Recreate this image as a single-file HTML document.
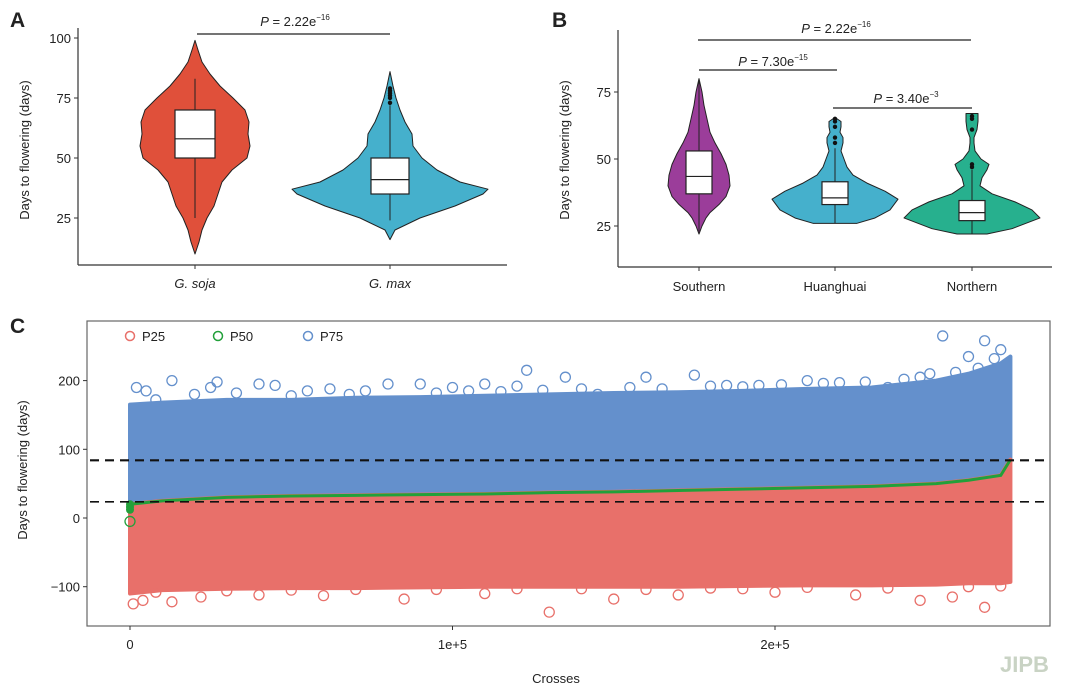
<!DOCTYPE html>
<html><head><meta charset="utf-8"><style>
body{margin:0;background:#fff}
svg text{font-family:"Liberation Sans",Arial,sans-serif;fill:#222}
</style></head><body>
<svg id="s" width="1080" height="693" viewBox="0 0 1080 693" xmlns="http://www.w3.org/2000/svg">
<text x="10" y="27" font-size="21" font-weight="bold">A</text>
<text x="552" y="27" font-size="21" font-weight="bold">B</text>
<text x="10" y="333" font-size="21" font-weight="bold">C</text>
<g id="pa"></g>
<g id="pb"></g>
<g id="pc"></g>
<text x="1000" y="672" font-size="22" font-weight="bold" fill="#c9d3c4" style="fill:#c9d3c4">JIPB</text>
</svg>
<script>
// ---- Panel A data ----
const aCats=["G. soja","G. max"];
const aSojaVals=[10,15,20,25,30,35,40,45,50,55,60,65,70,75,80,85,90,95,99];
const aSojaDens=[0,4,7,12,19,23,27,37,52,55,53,54,50,38,25,15,7,3,0];
const aMaxVals=[16,20,25,30,35,37,40,45,50,55,60,65,70,75,80,86];
const aMaxDens=[0,5,30,65,93,98,70,47,32,23,22,15,10,6,3,0];
const aBox=[[25,50,58,70,83],[24,35,41,50,72]];
const aOut=[[],[73,75,76,77,78,79]];
const aTicks=[25,50,75,100];
// ---- Panel B data ----
const bCats=["Southern","Huanghuai","Northern"];
const bSVals=[22,25,28,30,33,36,40,44,48,52,56,60,65,70,75,80];
const bSDens=[0,3,7,11,20,27,31,30,27,22,16,11,8,5,3,0];
const bHVals=[26,28,31,35,38,41,44,47,50,53,56,58,60,62,64,65.5];
const bHDens=[22,40,55,63,50,32,18,12,9,6,8,8,5,6,6,0];
const bNVals=[22,24,28,31,34,37,40,43,46,48,50,53,56,58,61,64,67];
const bNDens=[15,40,68,60,43,20,8,10,15,17,9,3,2,2,5,6,6];
const bBox=[[23,37,43.5,53,80],[26,33,35.5,41.5,54],[22,27,30,34.5,46]];
const bOut=[[],[56,58,62,64,65],[47,48,61,65,66]];
const bTicks=[25,50,75];
// ---- Panel C data ----
const cXs=[0,0.1,0.3,0.5,0.7,0.9,1.1,1.3,1.5,1.7,1.9,2.1,2.3,2.5,2.6,2.7,2.73];
const cP75Top=[165,168,172,172,175,176,178,180,182,183,185,188,190,200,210,225,235];
const cP50=[20,25,30,32,33,34,35,37,38,40,42,44,46,50,55,62,85];
const cP25Bottom=[-110,-105,-103,-102,-102,-101,-100,-100,-100,-100,-99,-98,-98,-97,-95,-95,-93];
const cBlueOutX=[0.02,0.05,0.13,0.2,0.25,0.27,0.4,0.45,0.55,0.62,0.73,0.8,0.9,1.0,1.1,1.2,1.23,1.35,1.45,1.6,1.75,1.85,1.95,2.1,2.2,2.35,2.45,2.52,2.6,2.65,2.7,0.08,0.33,0.5,0.68,0.95,1.05,1.15,1.28,1.4,1.55,1.65,1.8,1.9,2.02,2.15,2.28,2.4,2.48,2.56,2.63,2.68];
const cBlueOutY=[190,185,200,180,190,198,195,193,185,188,185,195,195,190,195,192,215,205,180,205,208,193,193,200,197,190,205,265,235,258,245,172,182,178,180,182,185,184,186,188,190,188,192,191,194,196,198,202,210,212,218,232];
const cPinkOutX=[0.01,0.04,0.13,0.22,0.4,0.6,0.85,1.1,1.3,1.5,1.7,2.0,2.25,2.45,2.55,2.65,0.08,0.3,0.5,0.7,0.95,1.2,1.4,1.6,1.8,1.9,2.1,2.35,2.6,2.7];
const cPinkOutY=[-125,-120,-122,-115,-112,-113,-118,-110,-137,-118,-112,-108,-112,-120,-115,-130,-108,-106,-105,-104,-104,-103,-103,-104,-102,-103,-101,-102,-100,-99];
const cHLines=[84,23.6];
const cYTicks=[-100,0,100,200];
const cXTicks=[0,1,2];
const cXTickLabels=["0","1e+5","2e+5"];

const NS="http://www.w3.org/2000/svg";
function el(p,tag,at,txt){const e=document.createElementNS(NS,tag);for(const k in at)e.setAttribute(k,at[k]);if(txt!==undefined)e.textContent=txt;p.appendChild(e);return e;}
function violin(g,cx,ys,vals,dens,col,name){
  let pts=[];for(let i=0;i<vals.length;i++)pts.push((cx-dens[i])+","+ys(vals[i]));
  for(let i=vals.length-1;i>=0;i--)pts.push((cx+dens[i])+","+ys(vals[i]));
  const p=el(g,"polygon",{points:pts.join(" "),fill:col,stroke:"#222","stroke-width":1,"stroke-linejoin":"round"});
  
  
}
function box(g,cx,ys,b,hw,out,name){
  const l=el(g,"line",{x1:cx,x2:cx,y1:ys(b[0]),y2:ys(b[4]),stroke:"#222","stroke-width":1});
  
  
  const r=el(g,"rect",{x:cx-hw,y:ys(b[3]),width:2*hw,height:ys(b[1])-ys(b[3]),fill:"#fff",stroke:"#222","stroke-width":1.2});
  
  
  const m=el(g,"line",{x1:cx-hw,x2:cx+hw,y1:ys(b[2]),y2:ys(b[2]),stroke:"#222","stroke-width":1.2});
  
  
  out.forEach(v=>{const c=el(g,"circle",{cx:cx,cy:ys(v),r:2.2,fill:"#111"});
    
    });
}
function ptext(g,x,y,val,exp,name){
  const t=el(g,"text",{x:x,y:y,"text-anchor":"middle","font-size":13});
  
  
  el(t,"tspan",{"font-style":"italic"},"P");
  el(t,"tspan",{}," = "+val+"e");
  el(t,"tspan",{"font-size":8,dy:-6},exp);
}
// Panel A
(function(){
  const g=document.getElementById("pa");
  const ys=v=>38+(100-v)*2.4;
  const xc=[195,390];
  el(g,"line",{x1:78,x2:78,y1:28,y2:265,stroke:"#333","stroke-width":1.2});
  el(g,"line",{x1:78,x2:507,y1:265,y2:265,stroke:"#333","stroke-width":1.2});
  aTicks.forEach(v=>{el(g,"line",{x1:74,x2:78,y1:ys(v),y2:ys(v),stroke:"#333"});
    const t=el(g,"text",{x:71,y:ys(v)+5,"text-anchor":"end","font-size":13},String(v));
    
    });
  aCats.forEach((c,i)=>{el(g,"line",{x1:xc[i],x2:xc[i],y1:265,y2:269,stroke:"#333"});
    const t=el(g,"text",{x:xc[i],y:288,"text-anchor":"middle","font-size":13,"font-style":"italic"},c);
    
    });
  const yt=el(g,"text",{x:0,y:0,transform:"translate(29,150) rotate(-90)","text-anchor":"middle","font-size":13},"Days to flowering (days)");
  
  
  violin(g,xc[0],ys,aSojaVals,aSojaDens,"#e0503a","violin-g-soja");
  violin(g,xc[1],ys,aMaxVals,aMaxDens,"#45b0cc","violin-g-max");
  box(g,xc[0],ys,aBox[0],20,aOut[0],"box-g-soja");
  box(g,xc[1],ys,aBox[1],19,aOut[1],"box-g-max");
  el(g,"line",{x1:197,x2:390,y1:34,y2:34,stroke:"#222","stroke-width":1.2});
  ptext(g,295,26,"2.22","−16","a-p-value");
})();
// Panel B
(function(){
  const g=document.getElementById("pb");
  const ys=v=>92+(75-v)*2.68;
  const xc=[699,835,972];
  el(g,"line",{x1:618,x2:618,y1:30,y2:267,stroke:"#333","stroke-width":1.2});
  el(g,"line",{x1:618,x2:1052,y1:267,y2:267,stroke:"#333","stroke-width":1.2});
  bTicks.forEach(v=>{el(g,"line",{x1:614,x2:618,y1:ys(v),y2:ys(v),stroke:"#333"});
    const t=el(g,"text",{x:611,y:ys(v)+5,"text-anchor":"end","font-size":13},String(v));
    
    });
  bCats.forEach((c,i)=>{el(g,"line",{x1:xc[i],x2:xc[i],y1:267,y2:271,stroke:"#333"});
    const t=el(g,"text",{x:xc[i],y:291,"text-anchor":"middle","font-size":13},c);
    
    });
  const yt=el(g,"text",{x:0,y:0,transform:"translate(569,150) rotate(-90)","text-anchor":"middle","font-size":13},"Days to flowering (days)");
  
  
  const cols=["#9b3d9a","#45b0cc","#27b08e"];
  const V=[bSVals,bHVals,bNVals],D=[bSDens,bHDens,bNDens];
  for(let i=0;i<3;i++){violin(g,xc[i],ys,V[i],D[i],cols[i],"violin-"+bCats[i].toLowerCase());}
  for(let i=0;i<3;i++){box(g,xc[i],ys,bBox[i],13,bOut[i],"box-"+bCats[i].toLowerCase());}
  el(g,"line",{x1:698,x2:971,y1:40,y2:40,stroke:"#222","stroke-width":1.2});
  el(g,"line",{x1:699,x2:837,y1:70,y2:70,stroke:"#222","stroke-width":1.2});
  el(g,"line",{x1:833,x2:972,y1:108,y2:108,stroke:"#222","stroke-width":1.2});
  ptext(g,836,33,"2.22","−16","b-p-value-south-north");
  ptext(g,773,66,"7.30","−15","b-p-value-south-huang");
  ptext(g,906,103,"3.40","−3","b-p-value-huang-north");
})();
// Panel C
(function(){
  const g=document.getElementById("pc");
  const xs=v=>130+v*322.5;
  const ys=v=>518-v*0.687;
  el(g,"rect",{x:87,y:321,width:963,height:305,fill:"none",stroke:"#666","stroke-width":1.2});
  cYTicks.forEach(v=>{el(g,"line",{x1:83,x2:87,y1:ys(v),y2:ys(v),stroke:"#333"});
    const t=el(g,"text",{x:80,y:ys(v)+5,"text-anchor":"end","font-size":13},String(v).replace("-","−"));
    
    });
  cXTicks.forEach((v,i)=>{el(g,"line",{x1:xs(v),x2:xs(v),y1:626,y2:630,stroke:"#333"});
    const t=el(g,"text",{x:xs(v),y:649,"text-anchor":"middle","font-size":13},cXTickLabels[i]);
    
    });
  const yt=el(g,"text",{x:0,y:0,transform:"translate(27,470) rotate(-90)","text-anchor":"middle","font-size":13},"Days to flowering (days)");
  
  
  const xt=el(g,"text",{x:556,y:683,"text-anchor":"middle","font-size":13},"Crosses");
  
  
  let pb=[],pp=[],gl=[];
  for(let i=0;i<cXs.length;i++)pb.push(xs(cXs[i])+","+ys(cP75Top[i]));
  for(let i=cXs.length-1;i>=0;i--)pb.push(xs(cXs[i])+","+ys(cP50[i]));
  for(let i=0;i<cXs.length;i++)pp.push(xs(cXs[i])+","+ys(cP50[i]));
  for(let i=cXs.length-1;i>=0;i--)pp.push(xs(cXs[i])+","+ys(cP25Bottom[i]));
  for(let i=0;i<cXs.length;i++)gl.push(xs(cXs[i])+","+ys(cP50[i]));
  const b=el(g,"polygon",{points:pb.join(" "),fill:"#6490cc",stroke:"#6490cc","stroke-width":4,"stroke-linejoin":"round"});
  
  
  const p=el(g,"polygon",{points:pp.join(" "),fill:"#e8706a",stroke:"#e8706a","stroke-width":4,"stroke-linejoin":"round"});
  
  
  const gp=el(g,"polyline",{points:gl.join(" "),fill:"none",stroke:"#22a03a","stroke-width":3});
  
  
  cBlueOutX.forEach((x,i)=>{const c=el(g,"circle",{cx:xs(x),cy:ys(cBlueOutY[i]),r:5,fill:"none",stroke:"#6490cc","stroke-width":1.3});
    
    });
  cPinkOutX.forEach((x,i)=>{const c=el(g,"circle",{cx:xs(x),cy:ys(cPinkOutY[i]),r:5,fill:"none",stroke:"#e8706a","stroke-width":1.3});
    
    });
  [12,16,20].forEach(v=>{const c=el(g,"circle",{cx:xs(0),cy:ys(v),r:4,fill:"#22a03a"});
    
    });
  const c0=el(g,"circle",{cx:xs(0),cy:ys(-5),r:5,fill:"none",stroke:"#22a03a","stroke-width":1.3});
  
  
  cHLines.forEach((v,i)=>{const l=el(g,"line",{x1:90,x2:1050,y1:ys(v),y2:ys(v),stroke:"#111","stroke-width":i==0?2.2:1.6,"stroke-dasharray":"9,6"});
    
    });
  const leg=[["P25","#e8706a",130],["P50","#22a03a",218],["P75","#6490cc",308]];
  leg.forEach(L=>{const lg=el(g,"g",{});
    
    
    el(lg,"circle",{cx:L[2],cy:336,r:4.5,fill:"none",stroke:L[1],"stroke-width":1.5});
    el(lg,"text",{x:L[2]+12,y:341,"font-size":13},L[0]);});
})();
</script>
</body></html>
